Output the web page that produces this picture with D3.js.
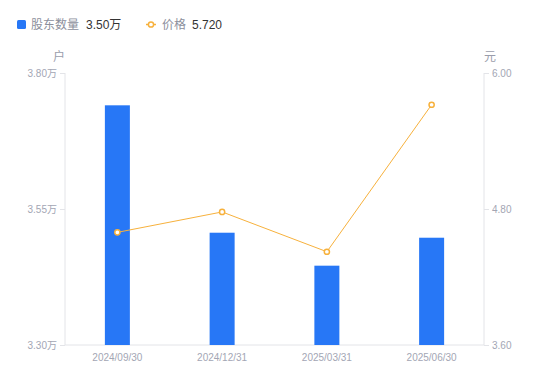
<!DOCTYPE html>
<html><head><meta charset="utf-8">
<script src="https://cdn.jsdelivr.net/npm/d3@7"></script>
<style>
html,body{margin:0;padding:0;background:#fff;}
svg{display:block;font-family:"Liberation Sans","Noto Sans CJK SC",sans-serif;}
</style></head>
<body>
<svg id="c" width="550" height="381"></svg>
<script>
const categories = ["2024/09/30","2024/12/31","2025/03/31","2025/06/30"];
const holders = [3.7406, 3.5064, 3.4458, 3.4972];   // 万户
const prices = [4.594, 4.774, 4.423, 5.720];        // 元
const leftTicks = [3.30, 3.55, 3.80];
const rightTicks = [3.60, 4.80, 6.00];
const legendHolders = "3.50万";
const legendPrice = "5.720";

const svg = d3.select("#c");
const m = {l:65, r:484, t:73, b:345};
const x = d3.scaleBand().domain(categories).range([m.l, m.r]);
const yL = d3.scaleLinear().domain([3.30, 3.80]).range([m.b, m.t]);
const yR = d3.scaleLinear().domain([3.60, 6.00]).range([m.b, m.t]);

const axisColor = "#e3e4e8", tickText = "#a3a6b4";

// left axis
const gl = svg.append("g").attr("transform", `translate(${m.l},0)`)
  .call(d3.axisLeft(yL).tickValues(leftTicks).tickSize(5).tickPadding(3).tickFormat(d => d3.format(".2f")(d) + "万"));
// right axis
const gr = svg.append("g").attr("transform", `translate(${m.r},0)`)
  .call(d3.axisRight(yR).tickValues(rightTicks).tickSize(5).tickPadding(3).tickFormat(d3.format(".2f")));
// bottom axis
const gb = svg.append("g").attr("transform", `translate(0,${m.b})`)
  .call(d3.axisBottom(x).tickSize(0).tickPadding(9));
[gl, gr, gb].forEach(g => {
  g.selectAll("path.domain").attr("stroke", axisColor);
  g.selectAll(".tick line").attr("stroke", axisColor);
  g.selectAll(".tick text").attr("fill", tickText).attr("font-size", 10)
    .attr("font-family", '"Liberation Sans","Noto Sans CJK SC",sans-serif');
});
gl.select("path.domain").attr("d", `M0,${m.b}V${m.t}`);
gr.select("path.domain").attr("d", `M0,${m.b}V${m.t}`);
gb.select("path.domain").attr("d", `M${m.l},0H${m.r}`);

// unit labels
svg.append("text").attr("x", 59).attr("y", 61).attr("text-anchor", "middle")
  .attr("font-size", 12).attr("fill", "#9a9dab").text("户");
svg.append("text").attr("x", 490).attr("y", 61).attr("text-anchor", "middle")
  .attr("font-size", 12).attr("fill", "#9a9dab").text("元");

// bars
const barW = 25;
svg.append("g").selectAll("rect").data(holders).join("rect")
  .attr("x", (d, i) => x(categories[i]) + x.bandwidth() / 2 - barW / 2)
  .attr("y", d => yL(d))
  .attr("width", barW)
  .attr("height", d => m.b - yL(d))
  .attr("fill", "#2777f6");

// line
const lineColor = "#f7b13c";
const line = d3.line().x((d, i) => x(categories[i]) + x.bandwidth() / 2).y(d => yR(d));
svg.append("path").datum(prices).attr("d", line)
  .attr("fill", "none").attr("stroke", lineColor).attr("stroke-width", 1);
svg.append("g").selectAll("circle").data(prices).join("circle")
  .attr("cx", (d, i) => x(categories[i]) + x.bandwidth() / 2)
  .attr("cy", d => yR(d))
  .attr("r", 2.6).attr("fill", "#fff").attr("stroke", lineColor).attr("stroke-width", 1.5);

// legend
const lg = svg.append("g");
lg.append("rect").attr("x", 17).attr("y", 20).attr("width", 9).attr("height", 9).attr("rx", 1.5).attr("fill", "#2777f6");
lg.append("text").attr("x", 31).attr("y", 29).attr("font-size", 12).attr("fill", "#8c8f9c").text("股东数量");
lg.append("text").attr("x", 86).attr("y", 29).attr("font-size", 12).attr("fill", "#333").text(legendHolders);
lg.append("line").attr("x1", 146).attr("x2", 156).attr("y1", 24.5).attr("y2", 24.5).attr("stroke", lineColor).attr("stroke-width", 1.5);
lg.append("circle").attr("cx", 151).attr("cy", 24.5).attr("r", 2.6).attr("fill", "#fff").attr("stroke", lineColor).attr("stroke-width", 1.5);
lg.append("text").attr("x", 162).attr("y", 29).attr("font-size", 12).attr("fill", "#8c8f9c").text("价格");
lg.append("text").attr("x", 192).attr("y", 29).attr("font-size", 12).attr("fill", "#333").text(legendPrice);
</script>
</body></html>
